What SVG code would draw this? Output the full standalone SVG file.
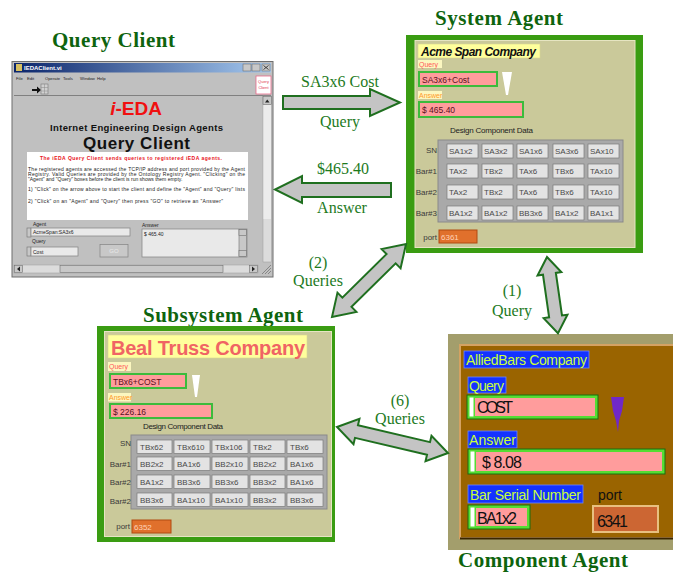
<svg xmlns="http://www.w3.org/2000/svg" width="673" height="573" viewBox="0 0 673 573">
<defs>
  <linearGradient id="titlebar" x1="0" x2="1" y1="0" y2="0">
    <stop offset="0" stop-color="#0a246a"/>
    <stop offset="1" stop-color="#a6caf0"/>
  </linearGradient>
</defs>
<style>
  .title{font-family:"Liberation Serif","Times New Roman",serif;font-weight:bold;font-size:21px;fill:#0e640e}
  .lbl{font-family:"Liberation Serif","Times New Roman",serif;font-size:16px;fill:#1d7a1d;text-anchor:middle}
  .arrow{fill:#c4c4c4;stroke:#1f6f1f;stroke-width:2;stroke-linejoin:miter}
  .sans{font-family:"Liberation Sans",Arial,sans-serif}
  .win{fill:#c0c0c0;stroke:#6e6e6e;stroke-width:1}
  .btn{fill:#c8c8c8;stroke:#707070;stroke-width:.6}
  .tiny{font-family:"Liberation Sans",Arial,sans-serif;font-size:5px;fill:#222}
  .menu{font-family:"Liberation Sans",Arial,sans-serif;font-size:4.2px;fill:#222}
  .ctl{fill:#e9e9e9;stroke:#8a8a8a;stroke-width:.8}
  .frame{fill:#3a9c12}
  .pane{fill:#cac99a;stroke:#e6e5c2;stroke-width:1}
  .ylab{fill:#ffff9c}
  .qlab{font-family:"Liberation Sans",Arial,sans-serif;font-size:7px;fill:#ff5a5a}
  .alab{font-family:"Liberation Sans",Arial,sans-serif;font-size:7px;fill:#ff9a2a}
  .lbg{fill:#fbf7c0}
  .fld{fill:#ff9c9c;stroke:#3cbb3c;stroke-width:2}
  .fldtxt{font-family:"Liberation Sans",Arial,sans-serif;font-size:8.5px;fill:#5a1020}
  .dcd{font-family:"Liberation Sans",Arial,sans-serif;font-size:8px;fill:#222}
  .grid{fill:#a9a9a9;stroke:#8a8a8a;stroke-width:1}
  .cell{fill:#e3e3e3;stroke:#7a7a7a;stroke-width:.7}
  .ct{font-family:"Liberation Sans",Arial,sans-serif;font-size:8px;fill:#4a4a4a}
  .rl{font-family:"Liberation Sans",Arial,sans-serif;font-size:8px;fill:#3a3a3a;text-anchor:end}
  .port{fill:#e0702c;stroke:#b04a10;stroke-width:1}
  .porttxt{font-family:"Liberation Sans",Arial,sans-serif;font-size:8px;fill:#ffd2b8}
  .blue{fill:#1432ff;stroke:#6a86ff;stroke-width:.8}
  .btxt{font-family:"Liberation Sans",Arial,sans-serif;font-size:14px;fill:#c8ff3a}
  .cfld{fill:#55dd33;stroke:#1c6a10;stroke-width:1}
  .ctxt{font-family:"Liberation Sans",Arial,sans-serif;font-size:16px;fill:#101010}
</style>

<!-- captions -->
<g id="captions">
  <text class="title" x="52" y="47" textLength="123">Query Client</text>
  <text class="title" x="435" y="25" textLength="128">System Agent</text>
  <text class="title" x="143" y="322" textLength="160">Subsystem Agent</text>
  <text class="title" x="458" y="567" textLength="170">Component Agent</text>
</g>

<!-- client window -->
<g id="query-client">
  <rect class="win" x="12" y="61.5" width="261" height="215.5"/>
  <rect x="14" y="63" width="257" height="9.5" fill="url(#titlebar)"/>
  <rect x="16" y="64" width="6" height="7" fill="#d8c060"/>
  <text class="sans" x="24" y="70.3" font-size="6" font-weight="bold" fill="#fff">IEDAClient.vi</text>
  <rect class="btn" x="243" y="64" width="8" height="7"/>
  <rect class="btn" x="252" y="64" width="8" height="7"/>
  <rect class="btn" x="262" y="64" width="8" height="7"/>
  <path d="M263.5 65.5l5 4M268.5 65.5l-5 4" stroke="#222" stroke-width=".8"/>
  <g class="menu">
    <text x="16" y="80">File</text>
    <text x="27" y="80">Edit</text>
    <text x="45" y="80">Operate</text>
    <text x="63" y="80">Tools</text>
    <text x="80" y="80">Window</text>
    <text x="97" y="80">Help</text>
  </g>
  <path d="M32 89h5v-2.5l4 3.5-4 3.5v-2.5h-5z" fill="#111"/>
  <rect x="41" y="84" width="7" height="10" fill="#d0d0d0" stroke="#777" stroke-width=".6"/>
  <path d="M41 87.5h7M41 91h7M44.5 84v10" stroke="#888" stroke-width=".5"/>
  <rect x="256" y="76" width="15" height="18" fill="#fff" stroke="#e86a8a" stroke-width=".8"/>
  <text class="sans" x="263.5" y="83" font-size="4" fill="#e03050" text-anchor="middle">Query</text>
  <text class="sans" x="263.5" y="89" font-size="4" fill="#e03050" text-anchor="middle">Client</text>
  <line x1="14" y1="95.5" x2="271" y2="95.5" stroke="#808080"/>

  <!-- vertical scrollbar -->
  <rect x="263" y="96" width="8.5" height="166" fill="#dcdcdc" stroke="#9a9a9a" stroke-width=".5"/>
  <rect class="btn" x="263" y="96.5" width="8.5" height="8"/>
  <path d="M265 102.5h4.5l-2.25-3z" fill="#222"/>
  <rect x="263.5" y="105" width="7.5" height="114" fill="#ececec"/>

  <text class="sans" x="136" y="115" font-size="19" font-weight="bold" fill="#f01010" text-anchor="middle"><tspan font-style="italic">i</tspan>-EDA</text>
  <text class="sans" x="50" y="130.5" font-size="9.5" font-weight="bold" fill="#111" textLength="173">Internet Engineering Design Agents</text>
  <text class="sans" x="83" y="148.5" font-size="17" font-weight="bold" fill="#111" textLength="107">Query Client</text>

  <rect x="27" y="152" width="221" height="68" fill="#fff"/>
  <text class="sans" x="40" y="159.5" font-size="5" font-weight="bold" fill="#e81020" textLength="182">The iEDA Query Client sends queries to registered iEDA agents.</text>
  <g class="tiny">
    <text x="28" y="171" textLength="217">The registered agents are accessed the TCP/IP address and port provided by the Agent</text>
    <text x="28" y="176" textLength="217">Registry.   Valid Queries are provided by the Ontology Registry Agent.   "Clicking" on the</text>
    <text x="28" y="181">"Agent" and "Query" boxes before the client is run shows them empty.</text>
    <text x="28" y="191" textLength="217">1) "Click" on the arrow above to start the client and define the "Agent" and "Query" lists</text>
    <text x="28" y="203" textLength="195">2) "Click" on an "Agent" and "Query" then press "GO" to retrieve an "Answer"</text>
  </g>

  <text class="tiny" x="33" y="225.5">Agent</text>
  <rect class="btn" x="27" y="228" width="4" height="9"/>
  <rect class="ctl" x="31" y="228" width="99" height="8"/>
  <text class="tiny" x="33" y="234.3">AcmeSpan:SA3x6</text>
  <text class="tiny" x="32" y="243">Query</text>
  <rect class="btn" x="27" y="247" width="4" height="9"/>
  <rect class="ctl" x="31" y="247" width="47" height="9"/>
  <text class="tiny" x="33" y="253.5">Cost</text>
  <rect x="100" y="244.5" width="28" height="12.5" fill="#c8c8c8" stroke="#8a8a8a" stroke-width=".8"/>
  <text class="sans" x="114" y="253" font-size="6" fill="#e8e8e8" text-anchor="middle">GO</text>
  <text class="tiny" x="142" y="227">Answer</text>
  <rect class="ctl" x="142" y="229" width="105" height="28"/>
  <text class="tiny" x="144" y="236">$ 465.40</text>
  <rect class="btn" x="239" y="229.5" width="7.5" height="27"/>
  <rect class="btn" x="239" y="229.5" width="7.5" height="6"/>
  <rect class="btn" x="239" y="250.5" width="7.5" height="6"/>

  <!-- horizontal scrollbar -->
  <rect x="14" y="265" width="244" height="8" fill="#dcdcdc" stroke="#9a9a9a" stroke-width=".5"/>
  <rect class="btn" x="14.5" y="265.5" width="8" height="7"/>
  <path d="M17 269l3-2.5v5z" fill="#222"/>
  <rect class="btn" x="60" y="265.5" width="163" height="7"/>
  <rect class="btn" x="249.5" y="265.5" width="8" height="7"/>
  <path d="M255 269l-3-2.5v5z" fill="#222"/>
  <path d="M262 274l9-9M265 274l6-6M268 274l3-3" stroke="#777" stroke-width=".8"/>
</g>

<!-- upper agent panel -->
<g id="system-agent">
  <rect class="frame" x="406" y="35" width="237" height="218"/>
  <rect class="pane" x="415" y="40.5" width="220" height="207"/>
  <rect class="ylab" x="418" y="44" width="122" height="14" stroke="#d8d890" stroke-width=".6"/>
  <text class="sans" x="421" y="55.5" font-size="12" font-weight="bold" font-style="italic" fill="#111" textLength="115">Acme Span Company</text>
  <rect class="lbg" x="418" y="60" width="24" height="8"/>
  <text class="qlab" x="419" y="66.5">Query</text>
  <rect class="fld" x="419" y="72" width="78" height="14"/>
  <text class="fldtxt" x="422" y="82.5">SA3x6+Cost</text>
  <polygon points="502,72 512,72 508,95 506,95" fill="#fff"/>
  <rect class="lbg" x="418" y="91" width="24" height="8"/>
  <text class="alab" x="419" y="97.5">Answer</text>
  <rect class="fld" x="419" y="102" width="104" height="15"/>
  <text class="fldtxt" x="422" y="112.5">$ 465.40</text>
  <text class="dcd" x="450" y="133" textLength="83">Design Component Data</text>

  <rect class="grid" x="438" y="140" width="185" height="82"/>
  <text class="rl" x="437" y="153">SN</text>
  <text class="rl" x="437" y="174">Bar#1</text>
  <text class="rl" x="437" y="195">Bar#2</text>
  <text class="rl" x="437" y="216">Bar#3</text>
  <g>
    <rect class="cell" x="447" y="144" width="31" height="14"/><rect class="cell" x="482" y="144" width="31" height="14"/><rect class="cell" x="517" y="144" width="31" height="14"/><rect class="cell" x="553" y="144" width="31" height="14"/><rect class="cell" x="588" y="144" width="31" height="14"/>
    <rect class="cell" x="447" y="164" width="31" height="14"/><rect class="cell" x="482" y="164" width="31" height="14"/><rect class="cell" x="517" y="164" width="31" height="14"/><rect class="cell" x="553" y="164" width="31" height="14"/><rect class="cell" x="588" y="164" width="31" height="14"/>
    <rect class="cell" x="447" y="185" width="31" height="14"/><rect class="cell" x="482" y="185" width="31" height="14"/><rect class="cell" x="517" y="185" width="31" height="14"/><rect class="cell" x="553" y="185" width="31" height="14"/><rect class="cell" x="588" y="185" width="31" height="14"/>
    <rect class="cell" x="447" y="206" width="31" height="14"/><rect class="cell" x="482" y="206" width="31" height="14"/><rect class="cell" x="517" y="206" width="31" height="14"/><rect class="cell" x="553" y="206" width="31" height="14"/><rect class="cell" x="588" y="206" width="31" height="14"/>
  </g>
  <g class="ct">
    <text x="449" y="154">SA1x2</text><text x="484" y="154">SA3x2</text><text x="519" y="154">SA1x6</text><text x="555" y="154">SA3x6</text><text x="590" y="154">SAx10</text>
    <text x="449" y="174">TAx2</text><text x="484" y="174">TBx2</text><text x="519" y="174">TAx6</text><text x="555" y="174">TBx6</text><text x="590" y="174">TAx10</text>
    <text x="449" y="195">TAx2</text><text x="484" y="195">TBx2</text><text x="519" y="195">TAx6</text><text x="555" y="195">TBx6</text><text x="590" y="195">TAx10</text>
    <text x="449" y="216">BA1x2</text><text x="484" y="216">BA1x2</text><text x="519" y="216">BB3x6</text><text x="555" y="216">BA1x2</text><text x="590" y="216">BA1x1</text>
  </g>
  <text class="rl" x="437" y="240">port</text>
  <rect class="port" x="439" y="230" width="38" height="13"/>
  <text class="porttxt" x="441" y="240">6361</text>
</g>

<!-- lower-left agent panel -->
<g id="subsystem-agent">
  <rect class="frame" x="97" y="326" width="238" height="216"/>
  <rect class="pane" x="104.5" y="331.5" width="227" height="205"/>
  <rect class="ylab" x="108" y="335" width="199" height="23" stroke="#d8d890" stroke-width=".6"/>
  <text class="sans" x="111" y="355" font-size="20" font-weight="bold" fill="#f06464" textLength="194">Beal Truss Company</text>
  <rect class="lbg" x="108" y="362" width="23" height="9"/>
  <text class="qlab" x="109" y="369">Query</text>
  <rect class="fld" x="110" y="374" width="76" height="14"/>
  <text class="fldtxt" x="113" y="384.5">TBx6+COST</text>
  <polygon points="192,375 200,375 197,397 195,397" fill="#fff"/>
  <rect class="lbg" x="108" y="393" width="23" height="8.5"/>
  <text class="alab" x="109" y="400">Answer</text>
  <rect class="fld" x="110" y="404" width="102" height="14"/>
  <text class="fldtxt" x="113" y="414.5">$ 226.16</text>
  <text class="dcd" x="143" y="429" textLength="80">Design Component Data</text>

  <rect class="grid" x="131" y="435" width="196" height="74"/>
  <text class="rl" x="131" y="446">SN</text>
  <text class="rl" x="131" y="467">Bar#1</text>
  <text class="rl" x="131" y="485">Bar#2</text>
  <text class="rl" x="131" y="504">Bar#2</text>
  <g>
    <rect class="cell" x="137" y="440" width="35" height="13.5"/><rect class="cell" x="174" y="440" width="36" height="13.5"/><rect class="cell" x="212" y="440" width="36" height="13.5"/><rect class="cell" x="250" y="440" width="35" height="13.5"/><rect class="cell" x="287" y="440" width="36" height="13.5"/>
    <rect class="cell" x="137" y="457" width="35" height="13.5"/><rect class="cell" x="174" y="457" width="36" height="13.5"/><rect class="cell" x="212" y="457" width="36" height="13.5"/><rect class="cell" x="250" y="457" width="35" height="13.5"/><rect class="cell" x="287" y="457" width="36" height="13.5"/>
    <rect class="cell" x="137" y="475" width="35" height="13.5"/><rect class="cell" x="174" y="475" width="36" height="13.5"/><rect class="cell" x="212" y="475" width="36" height="13.5"/><rect class="cell" x="250" y="475" width="35" height="13.5"/><rect class="cell" x="287" y="475" width="36" height="13.5"/>
    <rect class="cell" x="137" y="493" width="35" height="13.5"/><rect class="cell" x="174" y="493" width="36" height="13.5"/><rect class="cell" x="212" y="493" width="36" height="13.5"/><rect class="cell" x="250" y="493" width="35" height="13.5"/><rect class="cell" x="287" y="493" width="36" height="13.5"/>
  </g>
  <g class="ct">
    <text x="140" y="450">TBx62</text><text x="177" y="450">TBx610</text><text x="215" y="450">TBx106</text><text x="253" y="450">TBx2</text><text x="290" y="450">TBx6</text>
    <text x="140" y="467">BB2x2</text><text x="177" y="467">BA1x6</text><text x="215" y="467">BB2x10</text><text x="253" y="467">BB2x2</text><text x="290" y="467">BA1x6</text>
    <text x="140" y="485">BA1x2</text><text x="177" y="485">BB3x6</text><text x="215" y="485">BB3x6</text><text x="253" y="485">BB3x2</text><text x="290" y="485">BA1x6</text>
    <text x="140" y="503">BB3x6</text><text x="177" y="503">BA1x10</text><text x="215" y="503">BA1x10</text><text x="253" y="503">BB3x2</text><text x="290" y="503">BB3x6</text>
  </g>
  <text class="rl" x="130" y="529">port</text>
  <rect class="port" x="132" y="520" width="39" height="13"/>
  <text class="porttxt" x="134" y="530">6352</text>
</g>

<!-- lower-right agent panel -->
<g id="component-agent">
  <rect x="448" y="334" width="225" height="216" fill="#a39e6c"/>
  <rect x="460" y="345" width="215" height="193" fill="#9a6400" stroke="#d4a262" stroke-width="2"/>
  <line x1="460" y1="538.5" x2="673" y2="538.5" stroke="#3a2600" stroke-width="2"/>
  <rect class="blue" x="464" y="351" width="125" height="17"/>
  <text class="btxt" x="466" y="365" textLength="121">AlliedBars Company</text>
  <rect class="blue" x="468" y="377" width="38" height="16"/>
  <text class="btxt" x="469" y="390.5" textLength="35">Query</text>
  <rect class="cfld" x="467" y="395" width="131" height="24"/>
  <rect x="469.5" y="397.5" width="4" height="19" fill="#fff"/>
  <rect x="475" y="398" width="120" height="18" fill="#ff9c9c"/>
  <text class="ctxt" x="477" y="413" textLength="36">COST</text>
  <polygon points="611,397 624,397 622,411 619,421 618,432 616,421 613,411" fill="#7028c8"/>
  <rect class="blue" x="468" y="431" width="49" height="17"/>
  <text class="btxt" x="469" y="445" textLength="47">Answer</text>
  <rect class="cfld" x="468" y="449" width="197" height="25"/>
  <rect x="470.5" y="451.5" width="4" height="20" fill="#fff"/>
  <rect x="476" y="452" width="186" height="19" fill="#ff9c9c"/>
  <text class="ctxt" x="482" y="468" textLength="40">$ 8.08</text>
  <rect class="blue" x="468" y="485" width="115" height="18"/>
  <text class="btxt" x="470" y="499.5" textLength="111">Bar Serial Number</text>
  <text class="sans" x="598" y="500" font-size="14" fill="#111" textLength="24">port</text>
  <rect class="cfld" x="468" y="505" width="62" height="24"/>
  <rect x="470.5" y="507.5" width="4" height="19" fill="#fff"/>
  <rect x="476" y="508" width="51" height="18" fill="#ff9c9c"/>
  <text class="ctxt" x="477" y="524" textLength="40">BA1x2</text>
  <rect x="593" y="506" width="65" height="26" fill="#cc6633" stroke="#e8c080" stroke-width="2"/>
  <text class="ctxt" x="597" y="527" textLength="31">6341</text>
</g>

<!-- connectors -->
<g id="connectors">
  <polygon class="arrow" points="283,96 370,96 370,89 400,102.5 370,116 370,109 283,109"/>
  <polygon class="arrow" points="391,183 302,183 302,176 275,189.5 302,203 302,197 391,197"/>
  <polygon class="arrow" transform="translate(332,317) rotate(-44.6)" points="0,0 21,-13.5 21,-6.5 83,-6.5 83,-13.5 104,0 83,13.5 83,6.5 21,6.5 21,13.5"/>
  <polygon class="arrow" transform="translate(337,427) rotate(13.2)" points="0,0 20,-13 20,-6.5 94,-6.5 94,-13 114,0 94,13 94,6.5 20,6.5 20,13"/>
  <polygon class="arrow" transform="translate(547,257) rotate(81.8)" points="0,0 17,-12 17,-6.5 60,-6.5 60,-12 77,0 60,12 60,6.5 17,6.5 17,12"/>
  <g class="lbl">
    <text x="340" y="87">SA3x6 Cost</text>
    <text x="340" y="127">Query</text>
    <text x="343" y="174">$465.40</text>
    <text x="342" y="213">Answer</text>
    <text x="318" y="268">(2)</text>
    <text x="318" y="286">Queries</text>
    <text x="400" y="406">(6)</text>
    <text x="400" y="424">Queries</text>
    <text x="512" y="296">(1)</text>
    <text x="512" y="316">Query</text>
  </g>
</g>
</svg>
